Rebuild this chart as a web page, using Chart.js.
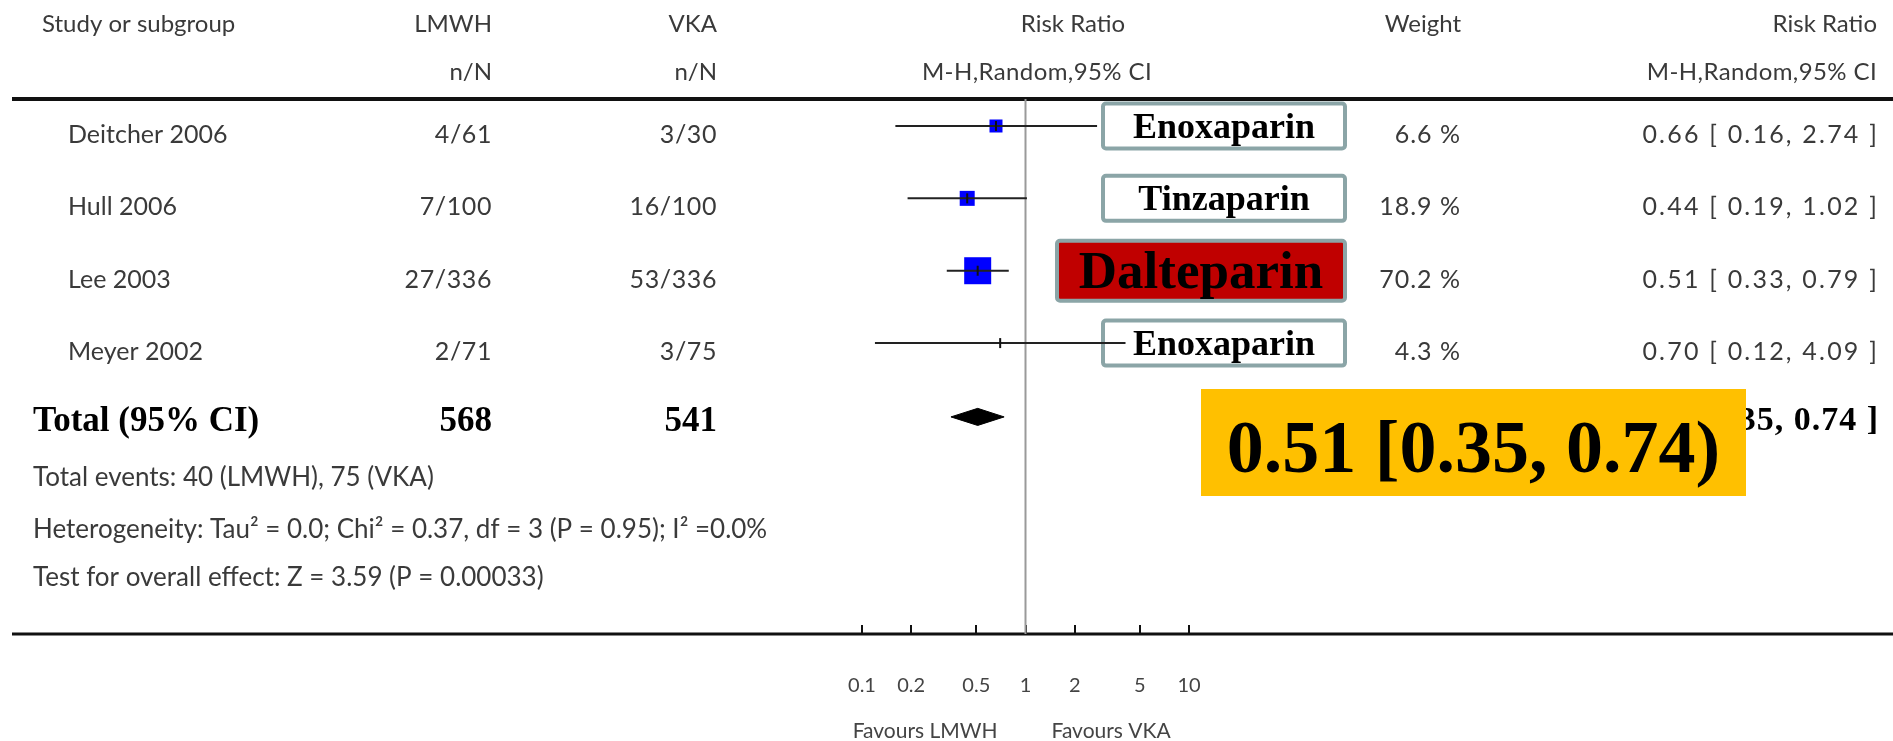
<!DOCTYPE html>
<html>
<head>
<meta charset="utf-8">
<script src="https://cdn.jsdelivr.net/npm/chart.js@4.4.0/dist/chart.umd.min.js"></script>
<style>
  html, body { margin: 0; padding: 0; background: #fff; }
</style>
</head>
<body>
<canvas id="forest" width="1893" height="741"></canvas>
<script>
// study data
const studies = ["Deitcher 2006", "Hull 2006", "Lee 2003", "Meyer 2002"];
const lmwhEvents = [4, 7, 27, 2];
const lmwhTotal = [61, 100, 336, 71];
const vkaEvents = [3, 16, 53, 3];
const vkaTotal = [30, 100, 336, 75];
const weights = [6.6, 18.9, 70.2, 4.3];
const riskRatio = [0.66, 0.44, 0.51, 0.70];
const ciLow = [0.16, 0.19, 0.33, 0.12];
const ciHigh = [2.74, 1.02, 0.79, 4.09];
const drugs = ["Enoxaparin", "Tinzaparin", "Dalteparin", "Enoxaparin"];

const totalRR = 0.51;
const totalLow = 0.35;
const totalHigh = 0.74;
const totalWeight = 100.0;
const heterogeneity = "Heterogeneity: Tau\u00b2 = 0.0; Chi\u00b2 = 0.37, df = 3 (P = 0.95); I\u00b2 =0.0%";
const overallEffect = "Test for overall effect: Z = 3.59 (P = 0.00033)";

const tickValues = [0.1, 0.2, 0.5, 1, 2, 5, 10];
const tickLabels = ["0.1", "0.2", "0.5", "1", "2", "5", "10"];

// styling
const squareSide = [13, 15, 27, 0];
const highlightDrug = 2;
const totalRow = 4.02;
const diamondHalf = 0.118;
const bodyFont = "Lato";
const serif = "'Liberation Serif', 'Times New Roman', serif";
const textColor = "#3a3a3a";

const sum = arr => arr.reduce((a, b) => a + b, 0);
const ci = (r, l, h) => r.toFixed(2) + " [ " + l.toFixed(2) + ", " + h.toFixed(2) + " ]";

function txt(ctx, s, x, y, align, font, color, spacing) {
  ctx.font = font;
  ctx.fillStyle = color || textColor;
  ctx.textAlign = align;
  ctx.textBaseline = "middle";
  ctx.letterSpacing = spacing || "0px";
  ctx.fillText(s, x, y);
  ctx.letterSpacing = "0px";
}

function roundBox(ctx, x, y, w, h, r) {
  ctx.beginPath();
  ctx.moveTo(x + r, y);
  ctx.arcTo(x + w, y, x + w, y + h, r);
  ctx.arcTo(x + w, y + h, x, y + h, r);
  ctx.arcTo(x, y + h, x, y, r);
  ctx.arcTo(x, y, x + w, y, r);
  ctx.closePath();
}

const tablePlugin = {
  id: "forestTable",
  beforeDraw(chart) {
    const ctx = chart.ctx;
    const ys = chart.scales.y;
    const area = chart.chartArea;
    const rowY = i => ys.getPixelForValue(i) + 9;
    const fh = "24px " + bodyFont;
    const f = "25px " + bodyFont;
    const ff = "26px " + bodyFont;
    ctx.save();
    ctx.fillStyle = "#fff";
    ctx.fillRect(0, 0, chart.width, chart.height);

    // header
    txt(ctx, "Study or subgroup", 42, 24, "left", fh);
    txt(ctx, "LMWH", 492, 24, "right", fh);
    txt(ctx, "VKA", 717, 24, "right", fh);
    txt(ctx, "Risk Ratio", 1073, 24, "center", fh);
    txt(ctx, "Weight", 1461, 24, "right", fh);
    txt(ctx, "Risk Ratio", 1877, 24, "right", fh);
    txt(ctx, "n/N", 492, 72, "right", fh);
    txt(ctx, "n/N", 717, 72, "right", fh);
    txt(ctx, "M-H,Random,95% CI", 1037, 72, "center", fh, null, "0.4px");
    txt(ctx, "M-H,Random,95% CI", 1877, 72, "right", fh, null, "0.4px");

    ctx.strokeStyle = "#111";
    ctx.lineWidth = 4;
    ctx.beginPath();
    ctx.moveTo(12, area.top);
    ctx.lineTo(chart.width, area.top);
    ctx.stroke();

    // study rows
    studies.forEach((s, i) => {
      const y = rowY(i);
      txt(ctx, s, 68, y, "left", f);
      txt(ctx, lmwhEvents[i] + "/" + lmwhTotal[i], 492, y, "right", f, null, "0.6px");
      txt(ctx, vkaEvents[i] + "/" + vkaTotal[i], 717, y, "right", f, null, "0.6px");
      txt(ctx, weights[i].toFixed(1) + " %", 1461, y, "right", f, null, "1px");
      txt(ctx, ci(riskRatio[i], ciLow[i], ciHigh[i]), 1879, y, "right", f, null, "2.2px");
    });

    // total row
    const ty = rowY(4) - 3;
    const fb = "bold 35px " + serif;
    txt(ctx, "Total (95% CI)", 33, ty, "left", fb, "#000");
    txt(ctx, String(sum(lmwhTotal)), 492, ty, "right", fb, "#000");
    txt(ctx, String(sum(vkaTotal)), 717, ty, "right", fb, "#000");
    txt(ctx, totalWeight.toFixed(1) + " %", 1461, ty, "right", fb, "#000");
    txt(ctx, ci(totalRR, totalLow, totalHigh), 1879, ty, "right", "bold 34px " + serif, "#000", "1px");

    txt(ctx, "Total events: " + sum(lmwhEvents) + " (LMWH), " + sum(vkaEvents) + " (VKA)", 33, rowY(4.73), "left", ff);
    txt(ctx, heterogeneity, 33, rowY(5.45), "left", ff);
    txt(ctx, overallEffect, 33, rowY(6.12), "left", ff);
    ctx.restore();
  },
  beforeDatasetsDraw(chart) {
    const ctx = chart.ctx;
    const ys = chart.scales.y;
    const xs = chart.scales.x;
    const area = chart.chartArea;
    ctx.save();

    // drug label boxes
    drugs.forEach((d, i) => {
      const cy = ys.getPixelForValue(i);
      const hi = i === highlightDrug;
      const left = hi ? 1055 : 1101;
      const h = hi ? 64 : 49;
      const w = 1347 - left;
      roundBox(ctx, left + 2, cy - h / 2 + 2, w - 4, h - 4, 3);
      ctx.fillStyle = hi ? "#c00000" : "#fff";
      ctx.fill();
      ctx.lineWidth = 4;
      ctx.strokeStyle = "#8ba5a7";
      ctx.stroke();
      const size = hi ? 53 : 36;
      ctx.font = "bold " + size + "px " + serif;
      ctx.fillStyle = "#000";
      ctx.textAlign = "center";
      ctx.textBaseline = "alphabetic";
      ctx.fillText(d, left + w / 2, cy + size * 0.331);
    });

    // highlighted total estimate
    ctx.fillStyle = "#ffc000";
    ctx.fillRect(1201, 389, 545, 107);
    ctx.font = "bold 74px " + serif;
    ctx.fillStyle = "#000";
    ctx.textAlign = "center";
    ctx.textBaseline = "alphabetic";
    ctx.fillText(totalRR.toFixed(2) + " [" + totalLow.toFixed(2) + ", " + totalHigh.toFixed(2) + ")", 1473.5, 472);

    // axis line and ticks
    ctx.strokeStyle = "#111";
    ctx.lineWidth = 3;
    ctx.beginPath();
    ctx.moveTo(12, area.bottom);
    ctx.lineTo(chart.width, area.bottom);
    ctx.stroke();
    ctx.lineWidth = 2;
    tickValues.forEach(v => {
      const x = Math.round(xs.getPixelForValue(v));
      ctx.beginPath();
      ctx.moveTo(x, area.bottom - 9);
      ctx.lineTo(x, area.bottom);
      ctx.stroke();
    });

    const one = xs.getPixelForValue(1);
    txt(ctx, "Favours LMWH", one - 28, 731, "right", "21px " + bodyFont, "#444");
    txt(ctx, "Favours VKA", one + 26, 731, "left", "21px " + bodyFont, "#444");
    ctx.restore();
  }
};

const yMin = -0.373;
const yMax = 7.02;

const ciSets = studies.map((s, i) => ({
  label: s,
  data: [{ x: ciLow[i], y: i }, { x: ciHigh[i], y: i }],
  showLine: true,
  borderColor: "#222",
  borderWidth: 2,
  pointRadius: 0,
  order: 2
}));

new Chart(document.getElementById("forest"), {
  type: "scatter",
  data: {
    datasets: [
      {
        label: "no effect",
        data: [{ x: 1, y: yMin }, { x: 1, y: yMax }],
        showLine: true,
        borderColor: "#9a9a9a",
        borderWidth: 2,
        pointRadius: 0,
        order: 5
      },
      {
        label: "weight",
        data: riskRatio.map((r, i) => ({ x: r, y: i })),
        pointStyle: "rect",
        pointRadius: squareSide.map(s => s / Math.SQRT2),
        pointBackgroundColor: "#0000ff",
        pointBorderWidth: 0,
        order: 3
      },
      ...ciSets,
      {
        label: "estimate",
        data: riskRatio.map((r, i) => ({ x: r, y: i })),
        pointStyle: "line",
        pointRotation: 90,
        pointRadius: 5,
        pointBorderColor: "#111",
        pointBorderWidth: 2,
        order: 1
      },
      {
        label: "total",
        data: [
          { x: totalLow, y: totalRow },
          { x: totalRR, y: totalRow - diamondHalf },
          { x: totalHigh, y: totalRow },
          { x: totalRR, y: totalRow + diamondHalf },
          { x: totalLow, y: totalRow }
        ],
        showLine: true,
        fill: "shape",
        backgroundColor: "#000",
        borderColor: "#000",
        borderWidth: 1,
        tension: 0,
        pointRadius: 0,
        order: 1
      }
    ]
  },
  options: {
    responsive: false,
    animation: false,
    layout: { padding: { left: 862, right: 704, top: 99, bottom: 3 } },
    plugins: { legend: { display: false }, tooltip: { enabled: false } },
    scales: {
      x: {
        type: "logarithmic",
        min: 0.1,
        max: 10,
        grid: { display: false, drawTicks: false },
        border: { display: false },
        afterBuildTicks: s => { s.ticks = tickValues.map(v => ({ value: v })); },
        ticks: {
          padding: 40,
          autoSkip: false,
          maxRotation: 0,
          color: "#444",
          font: { family: bodyFont, size: 20 },
          callback: (v, i) => tickLabels[i]
        }
      },
      y: { type: "linear", display: false, reverse: true, min: yMin, max: yMax }
    }
  },
  plugins: [tablePlugin]
});
</script>
</body>
</html>
